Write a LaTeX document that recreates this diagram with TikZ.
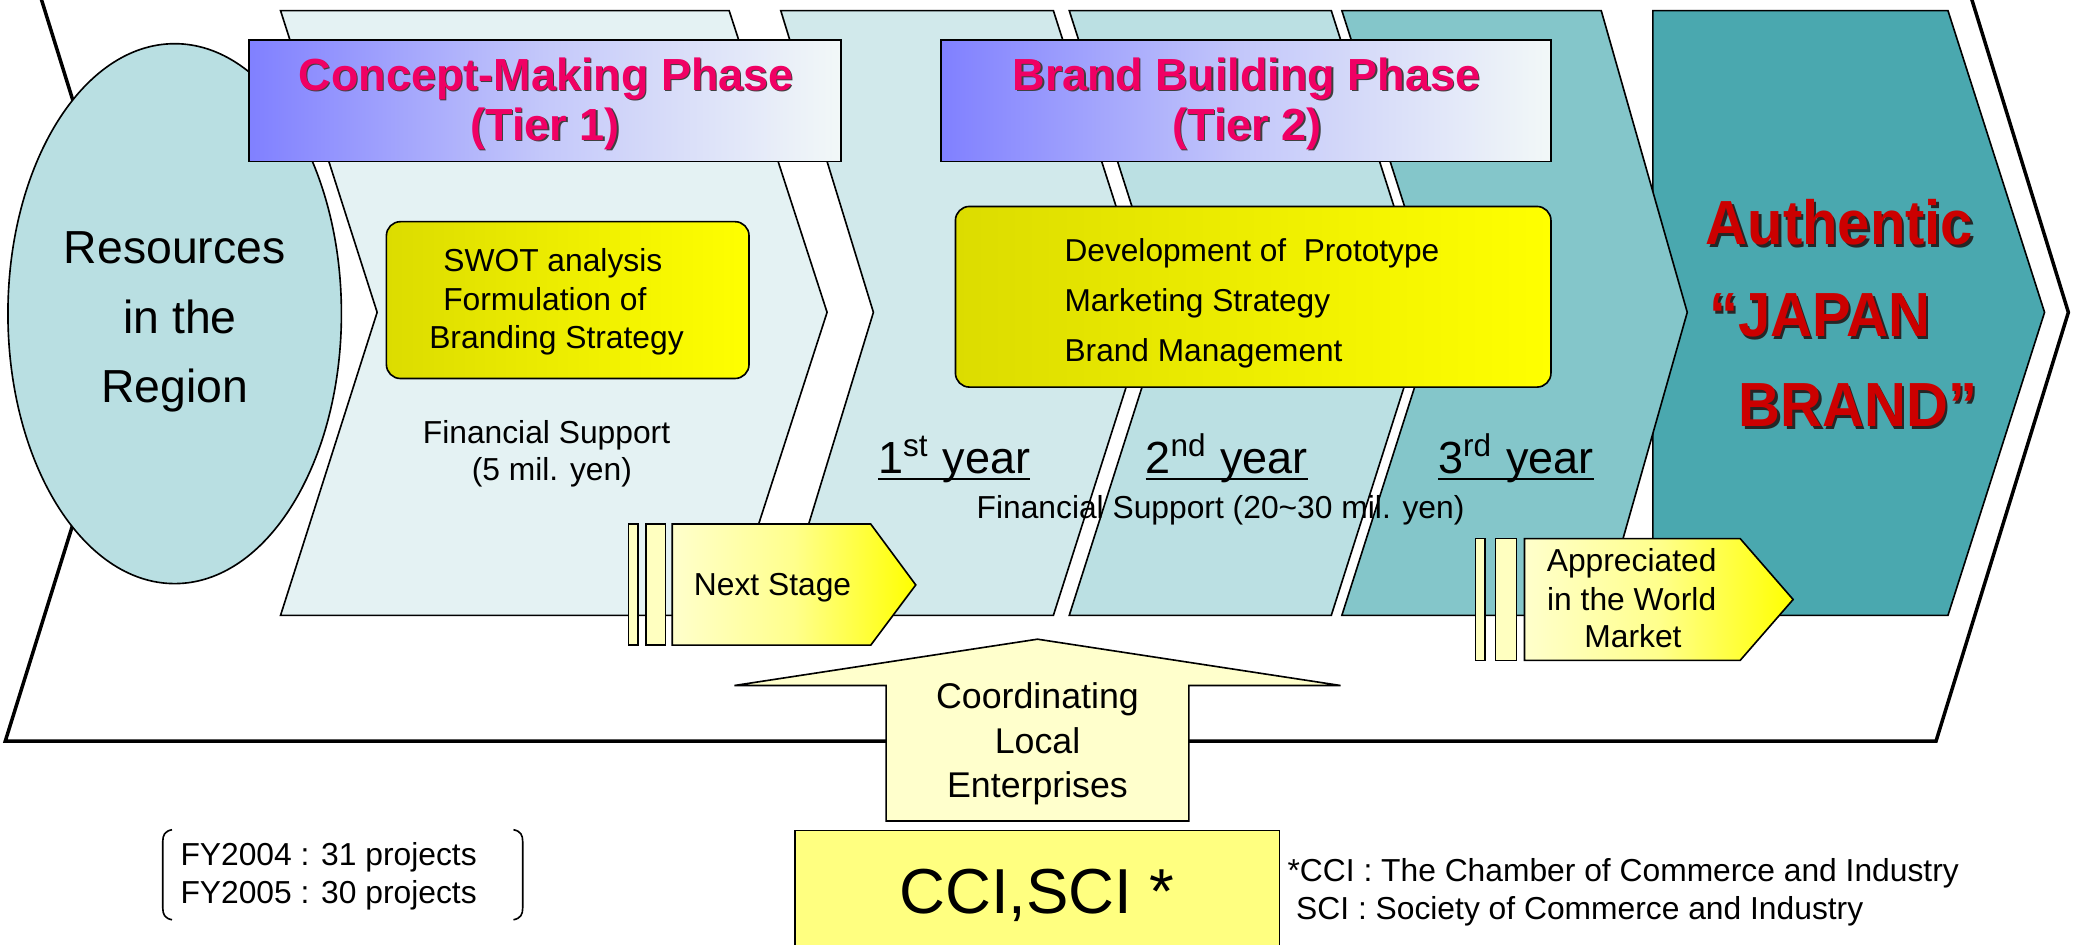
\documentclass[tikz,border=0pt]{standalone}
\usepackage{fontspec}
\setmainfont{Liberation Sans}
\newcommand{\myfs}[2]{\fontsize{#1pt}{#2pt}\selectfont}
\newsavebox\yrbox
\newcommand{\yrul}[1]{\sbox\yrbox{#1}\rlap{\rule[-1.35pt]{\wd\yrbox}{0.45pt}}\usebox\yrbox}
\definecolor{tierA}{HTML}{E4F2F3}
\definecolor{tierB}{HTML}{D1E9EB}
\definecolor{tierC}{HTML}{BBE0E3}
\definecolor{tierD}{HTML}{84C6CA}
\definecolor{tierE}{HTML}{4AA8AF}
\definecolor{ellfill}{HTML}{B9DFE2}
\definecolor{hdrL}{HTML}{8080FF}
\definecolor{hdrM}{HTML}{C4C8FA}
\definecolor{hdrR}{HTML}{F2F8F8}
\definecolor{hdrtext}{HTML}{F00064}
\definecolor{ylwL}{HTML}{DCDC00}
\definecolor{ylwR}{HTML}{FFFF00}
\definecolor{palelw}{HTML}{FFFFCC}
\definecolor{barfill}{HTML}{FFFFC0}
\definecolor{ccifill}{HTML}{FFFF80}
\definecolor{brandred}{HTML}{CC0000}
\begin{document}
\begin{tikzpicture}[x=0.01cm,y=-0.01cm,
  thinline/.style={draw=black,line width=0.35pt},
  txt/.style={inner sep=0pt,outer sep=0pt},
  body/.style={txt,font=\myfs{6.83}{8}},
  tbody/.style={txt,font=\myfs{6.8}{8}},
  hdr/.style={txt,font=\bfseries\myfs{9.67}{11}},
  redbig/.style={txt,font=\bfseries\myfs{13.4}{15}},
  yearst/.style={txt,font=\myfs{9.67}{11}},
  coord/.style={txt,font=\myfs{7.68}{9}},
  hdrbox/.style={thinline,left color=hdrL,right color=hdrR,middle color=hdrM},
  ylwbox/.style={thinline,rounded corners=3pt,left color=ylwL,right color=ylwR},
  nextarrow/.style={thinline,left color=palelw,right color=ylwR,middle color=yellow!45!white},
  barbox/.style={thinline,fill=barfill}]
\useasboundingbox (0,0) rectangle (1568,714);
\clip (0,0) rectangle (1568,714);

% outer chevron
\draw[line width=0.75pt,fill=white] (4,-88) -- (1463,-88) -- (1563,236) -- (1463,560) -- (4,560) -- (105,236) -- cycle;

% ellipse
\draw[thinline,fill=ellfill] (132,237) ellipse [x radius=126,y radius=204];
\node[txt,font=\myfs{9.96}{12},anchor=base] (res1) at (132,199) {Resources};
\node[txt,font=\myfs{9.96}{12},anchor=base] (res2) at (136,252) {in the};
\node[txt,font=\myfs{9.96}{12},anchor=base] (res3) at (132,304) {Region};

% band chevrons
\draw[thinline,fill=tierA] (212,8) -- (551,8) -- (625,236) -- (551,465) -- (212,465) -- (285,236) -- cycle;
\draw[thinline,fill=tierB] (590,8) -- (796,8) -- (869,236) -- (796,465) -- (590,465) -- (660,236) -- cycle;
\draw[thinline,fill=tierC] (808,8) -- (1006,8) -- (1079,236) -- (1006,465) -- (808,465) -- (881,236) -- cycle;
\draw[thinline,fill=tierE] (1249,8) -- (1472,8) -- (1545,236) -- (1472,465) -- (1249,465) -- cycle;
\draw[thinline,fill=tierD] (1014,8) -- (1210,8) -- (1275,236) -- (1210,465) -- (1014,465) -- (1087,236) -- cycle;

% header boxes
\draw[hdrbox] (188,30) rectangle (635.5,122);
\node[hdr,text=black!75,anchor=base] at (413.7,69) {Concept-Making Phase};
\node[hdr,text=hdrtext,anchor=base] (cmp1) at (412.7,68) {Concept-Making Phase};
\node[hdr,text=black!75,anchor=base] at (413,107) {(Tier 1)};
\node[hdr,text=hdrtext,anchor=base] (cmp2) at (412,106) {(Tier 1)};

\draw[hdrbox] (711,30) rectangle (1172,122);
\node[hdr,text=black!75,anchor=base] at (943,69) {Brand Building Phase};
\node[hdr,text=hdrtext,anchor=base] (bbp1) at (942,68) {Brand Building Phase};
\node[hdr,text=black!75,anchor=base] at (943.5,107) {(Tier 2)};
\node[hdr,text=hdrtext,anchor=base] (bbp2) at (942.5,106) {(Tier 2)};

% yellow boxes
\draw[ylwbox] (292,167.5) rectangle (566,286);
\node[body,anchor=base west] (sw1) at (335,205) {SWOT analysis};
\node[body,anchor=base west] (sw2) at (335,234.3) {Formulation of};
\node[body,anchor=base west] (sw3) at (324.4,263.2) {Branding Strategy};

\draw[ylwbox] (722,156) rectangle (1172,292.5);
\node[tbody,anchor=base west] (dv1) at (804.5,197.7) {Development of\ \ Prototype};
\node[tbody,anchor=base west] (dv2) at (804.5,235.5) {Marketing Strategy};
\node[tbody,anchor=base west] (dv3) at (804.5,273) {Brand Management};

% financial support
\node[body,anchor=base] (fs1) at (413,335) {Financial Support};
\node[body,anchor=base] (fs2) at (417,363) {(5 mil. yen)};
\node[yearst,anchor=base] (yr1) at (721,358) {\yrul{1\textsuperscript{st} year}};
\node[yearst,anchor=base] (yr2) at (927,358) {\yrul{2\textsuperscript{nd} year}};
\node[yearst,anchor=base] (yr3) at (1145.5,358) {\yrul{3\textsuperscript{rd} year}};
\node[body,anchor=base west] (fs3) at (738,391.7) {Financial Support (20\textasciitilde30 mil. yen)};

% Authentic JAPAN BRAND
\node[redbig,text=black!85,anchor=base west] at (1290.8,186.8) {\scalebox{0.93}[1]{Authentic}};
\node[redbig,text=brandred,anchor=base west] (au1) at (1289,185) {\scalebox{0.93}[1]{Authentic}};
\node[redbig,text=black!85,anchor=base west] at (1293.4,256.2) {\scalebox{0.93}[1]{“JAPAN}};
\node[redbig,text=brandred,anchor=base west] (au2) at (1291.6,254.4) {\scalebox{0.93}[1]{“JAPAN}};
\node[redbig,text=black!85,anchor=base west] at (1315.8,324.2) {\scalebox{0.93}[1]{BRAND”}};
\node[redbig,text=brandred,anchor=base west] (au3) at (1314,322.4) {\scalebox{0.93}[1]{BRAND”}};

% Next Stage arrow
\draw[barbox] (475,396) rectangle (482,487.5);
\draw[barbox] (488,396) rectangle (503,487.5);
\draw[nextarrow] (508,396) -- (658,396) -- (692,442) -- (658,487.5) -- (508,487.5) -- cycle;
\node[body,anchor=base west] (ns) at (524.4,450) {Next Stage};

% Appreciated arrow
\draw[barbox] (1115,407) rectangle (1122,499);
\draw[barbox] (1130,407) rectangle (1146,499);
\draw[nextarrow] (1152,407) -- (1315,407) -- (1355,453) -- (1315,499) -- (1152,499) -- cycle;
\node[body,anchor=base] (ap1) at (1233,432) {Appreciated};
\node[body,anchor=base] (ap2) at (1233,461) {in the World};
\node[body,anchor=base] (ap3) at (1234,489) {Market};

% up arrow
\draw[thinline,fill=palelw] (784,483) -- (1013,518) -- (898.4,518) -- (898.4,620.4) -- (669.6,620.4) -- (669.6,518) -- (555,518) -- cycle;
\node[coord,anchor=base] (co1) at (784,535) {Coordinating};
\node[coord,anchor=base] (co2) at (784,569) {Local};
\node[coord,anchor=base] (co3) at (784,603) {Enterprises};

% CCI box
\draw[thinline,fill=ccifill] (600.8,627.7) rectangle (967,730);
\node[txt,font=\myfs{13.66}{15},anchor=base] (cci) at (783.6,690) {CCI,SCI *};
\node[body,anchor=base west] (fn1) at (973,665.8) {*CCI : The Chamber of Commerce and Industry};
\node[body,anchor=base west] (fn2) at (979.5,694.5) {SCI : Society of Commerce and Industry};

% FY bracket
\draw[thinline] (130,627) .. controls (124.5,628) and (123,631) .. (123,636) -- (123,686) .. controls (123,691) and (124.5,694) .. (130,695);
\draw[thinline] (388,627) .. controls (393.5,628) and (395,631) .. (395,636) -- (395,686) .. controls (395,691) and (393.5,694) .. (388,695);
\node[body,anchor=base west] (fy1) at (136.4,654.3) {FY2004 : 31 projects};
\node[body,anchor=base west] (fy2) at (136.4,683) {FY2005 : 30 projects};
\end{tikzpicture}
\end{document}
